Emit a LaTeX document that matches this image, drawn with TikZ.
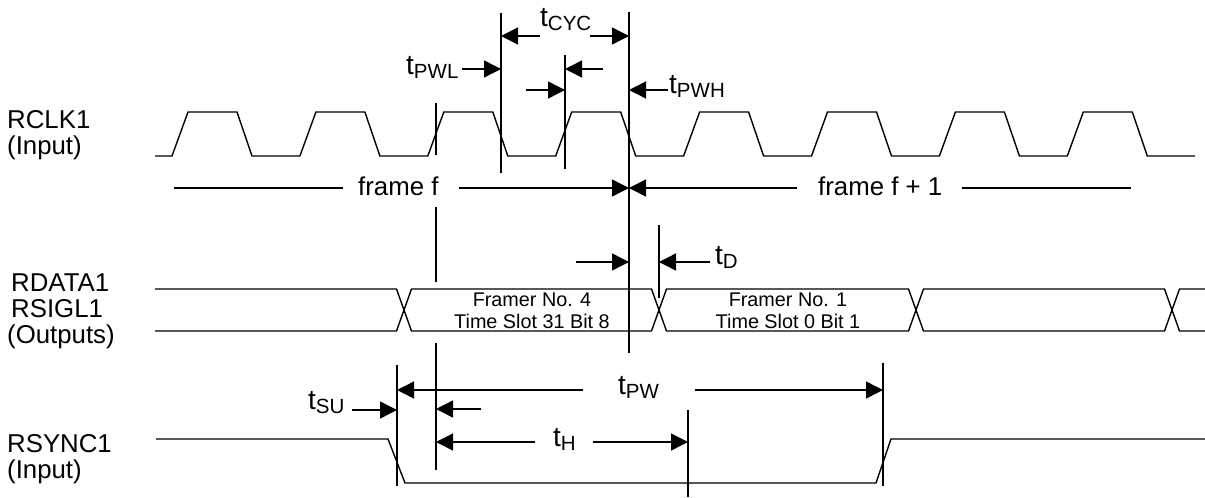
\documentclass[tikz,border=0pt]{standalone}
\usepackage{fontspec}
\setmainfont{Liberation Sans}
\usetikzlibrary{arrows.meta}
\newcommand\tlab[1]{{\fontsize{28}{28}\selectfont t}\raisebox{-4pt}{\fontsize{20.5}{20.5}\selectfont #1}}
\begin{document}
\begin{tikzpicture}[x=1pt,y=-1pt,
  wave/.style={line width=1.4pt,line join=miter},
  vline/.style={line width=1.4pt},
  thickvline/.style={line width=2.3pt},
  plainline/.style={line width=1.4pt},
  dimarrow/.style={line width=1.4pt,-{Triangle[length=17pt,width=17pt]}},
  siglabel/.style={font=\fontsize{25.8}{25.8}\selectfont,inner sep=0pt,anchor=base west},
  tlabel/.style={inner sep=0pt,anchor=base west},
  bustext/.style={font=\fontsize{19.8}{19.8}\selectfont,inner sep=0pt,anchor=base}]
\useasboundingbox (0,0) rectangle (1205,498);

% signal names
\node[siglabel] (rclk) at (7,128) {RCLK1};
\node[siglabel] (rclkin) at (7,154) {(Input)};
\node[siglabel] (rdata) at (11,291) {RDATA1};
\node[siglabel] (rsigl) at (11,317) {RSIGL1};
\node[siglabel] (outs) at (7,343) {(Outputs)};
\node[siglabel] (rsync) at (7,452) {RSYNC1};
\node[siglabel] (rsyncin) at (7,478) {(Input)};

% RCLK1 waveform
\draw[wave] (155,156) \foreach \k in {0,...,7}{
  -- ({172+127.9*\k},156) -- ({188+127.9*\k},112) -- ({237+127.9*\k},112) -- ({252+127.9*\k},156)}
  -- (1195,156);

% data bus
\draw[wave] (155,289) -- (396.5,289) -- (411.5,331) -- (651.5,331) -- (666.5,289) -- (908.5,289)
  -- (923.5,331) -- (1164.5,331) -- (1179.5,289) -- (1205,289);
\draw[wave] (155,331) -- (396.5,331) -- (411.5,289) -- (651.5,289) -- (666.5,331) -- (908.5,331)
  -- (923.5,289) -- (1164.5,289) -- (1179.5,331) -- (1205,331);
\node[bustext] (b1a) at (532,306) {Framer No. 4};
\node[bustext] (b1b) at (532,328) {Time Slot 31 Bit 8};
\node[bustext] (b2a) at (788,306) {Framer No. 1};
\node[bustext] (b2b) at (788,328) {Time Slot 0 Bit 1};

% RSYNC1 waveform
\draw[wave] (156,439) -- (388,439) -- (405,483) -- (876,483) -- (891,439) -- (1205,439);

% reference coordinates
\coordinate (xa) at (436,0);
\coordinate (xb) at (501,0);
\coordinate (xc) at (565,0);
\coordinate (xd) at (629,0);
\coordinate (xe) at (659,0);
\coordinate (xf) at (397,0);
\coordinate (xg) at (688,0);
\coordinate (xh) at (883,0);

% vertical reference lines
\draw[vline] (436,103) -- (436,155);
\draw[vline] (436,207) -- (436,282);
\draw[vline] (436,343) -- (436,470);
\draw[vline] (501,13) -- (501,173);
\draw[vline] (565,55) -- (565,169);
\draw[thickvline] (629,12) -- (629,353);
\draw[vline] (659,225) -- (659,298);
\draw[vline] (397,365) -- (397,486);
\draw[vline] (688,410) -- (688,497);
\draw[vline] (883,363) -- (883,486);

% tCYC
\node[tlabel] (tcyc) at (540,26) {\tlab{CYC}};
\coordinate (cycl) at (540,36);
\coordinate (cycr) at (590,36);
\draw[dimarrow] (cycl) -- (xb |- cycl);
\draw[dimarrow] (cycr) -- (xd |- cycr);

% tPWL
\node[tlabel] (tpwl) at (406,74) {\tlab{PWL}};
\coordinate (pwla) at (462,69);
\draw[dimarrow] (pwla) -- (xb |- pwla);
\coordinate (pwlb) at (603,69);
\draw[dimarrow] (pwlb) -- (xc |- pwlb);
\coordinate (pwlc) at (526,90);
\draw[dimarrow] (pwlc) -- (xc |- pwlc);

% tPWH
\node[tlabel] (tpwh) at (669,93) {\tlab{PWH}};
\coordinate (pwha) at (668,90);
\draw[dimarrow] (pwha) -- (xd |- pwha);

% frames
\node[siglabel] (ff) at (358,195) {frame f};
\node[siglabel] (ff1) at (818,195) {frame f + 1};
\coordinate (fa) at (174,188);
\coordinate (fb) at (343,188);
\coordinate (fc) at (459,188);
\coordinate (fd) at (797,188);
\coordinate (fe) at (962,188);
\coordinate (fg) at (1131,188);
\draw[plainline] (fa) -- (fb);
\draw[dimarrow] (fc) -- (xd |- fc);
\draw[dimarrow] (fd) -- (xd |- fd);
\draw[plainline] (fe) -- (fg);

% tD
\node[tlabel] (td) at (715,264) {\tlab{D}};
\coordinate (tda) at (576,262);
\coordinate (tdb) at (710,262);
\draw[dimarrow] (tda) -- (xd |- tda);
\draw[dimarrow] (tdb) -- (xe |- tdb);

% tPW
\node[tlabel] (tpw) at (618,394) {\tlab{PW}};
\coordinate (pwa) at (583,390);
\coordinate (pwb) at (695,390);
\draw[dimarrow] (pwa) -- (xf |- pwa);
\draw[dimarrow] (pwb) -- (xh |- pwb);

% tSU
\node[tlabel] (tsu) at (308,409) {\tlab{SU}};
\coordinate (sua) at (352,410);
\coordinate (sub) at (481,409);
\draw[dimarrow] (sua) -- (xf |- sua);
\draw[dimarrow] (sub) -- (xa |- sub);

% tH
\node[tlabel] (th) at (553,446) {\tlab{H}};
\coordinate (ha) at (535,442);
\coordinate (hb) at (593,442);
\draw[dimarrow] (ha) -- (xa |- ha);
\draw[dimarrow] (hb) -- (xg |- hb);
\end{tikzpicture}
\end{document}
